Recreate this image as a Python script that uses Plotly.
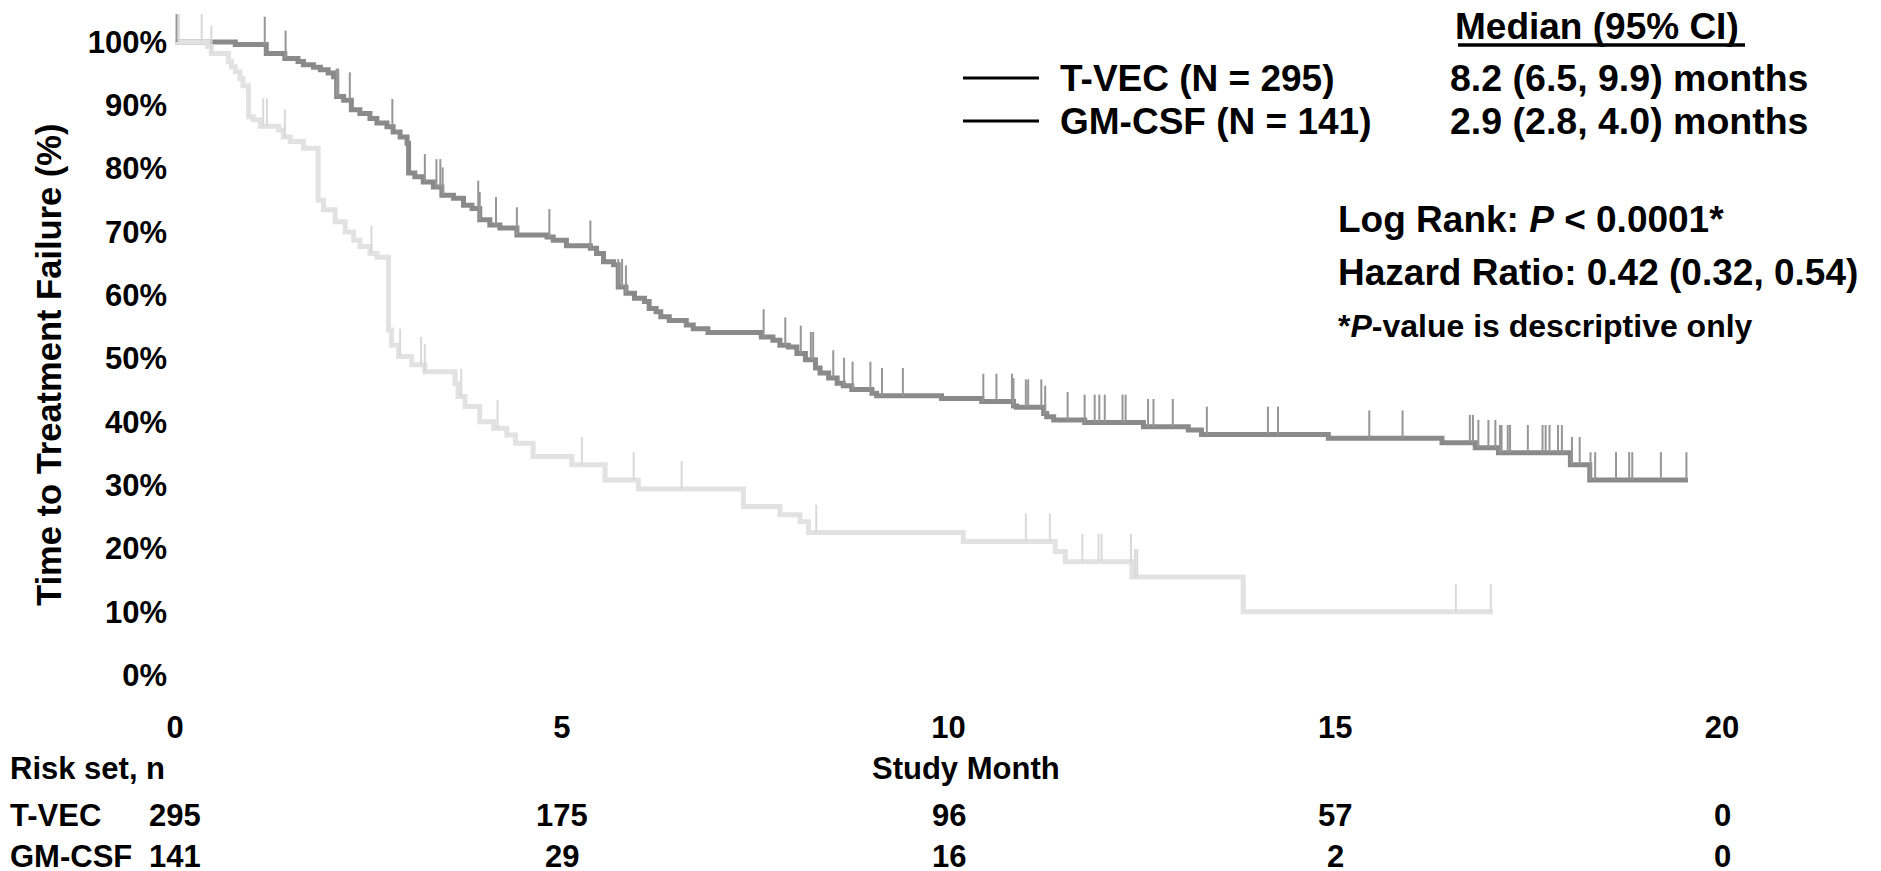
import plotly.graph_objects as go

# Kaplan-Meier steps: month of each step, % free of treatment failure after it
tvec_time = [0, 0.78, 1.18, 1.42, 1.59, 1.66, 1.79, 1.88, 1.98, 2.05, 2.09, 2.18, 2.28, 2.39,
             2.52, 2.61, 2.74, 2.82, 2.91, 3.00, 3.02, 3.10, 3.21, 3.34, 3.45, 3.60, 3.73, 3.84,
             3.94, 4.07, 4.20, 4.42, 4.81, 4.89, 5.06, 5.37, 5.45, 5.54, 5.67, 5.73, 5.83, 5.94,
             6.07, 6.13, 6.22, 6.28, 6.39, 6.61, 6.70, 6.89, 7.58, 7.73, 7.82, 7.93, 8.04, 8.15,
             8.28, 8.34, 8.45, 8.56, 8.64, 8.75, 9.01, 9.07, 9.91, 10.43, 10.84, 10.88, 11.23,
             11.27, 11.36, 11.76, 12.52, 13.10, 13.27, 14.91, 16.38, 16.81, 17.11, 18.04, 18.29]
tvec_surv = [100, 99.6, 98.2, 97.4, 96.9, 96.4, 96.0, 95.6, 95.1, 94.5, 91.4, 90.8, 89.3, 88.7,
             87.9, 87.2, 86.6, 85.8, 85.0, 84.0, 79.3, 78.7, 77.9, 77.1, 75.8, 75.3, 74.2, 73.7,
             71.9, 71.1, 70.6, 69.5, 69.2, 68.7, 67.8, 67.4, 66.6, 65.3, 64.8, 61.3, 60.3, 59.5,
             59.0, 57.9, 57.4, 56.6, 56.0, 55.3, 54.7, 54.1, 53.4, 52.9, 52.1, 51.8, 50.8, 49.8,
             48.5, 47.7, 46.9, 46.1, 45.7, 45.1, 44.5, 44.1, 43.7, 43.2, 42.5, 42.3, 41.3,
             40.8, 40.3, 39.9, 39.2, 38.7, 38.0, 37.4, 36.7, 35.9, 35.1, 33.2, 30.8]
tvec_end = 19.56
tvec_censor = [0.02, 1.16, 1.43, 2.09, 2.11, 2.26, 2.81, 3.23, 3.38, 3.43, 3.46, 3.92, 3.94,
               4.15, 4.42, 4.84, 5.37, 5.73, 5.78, 5.83, 7.61, 7.89, 8.09, 8.22, 8.25, 8.51,
               8.65, 8.76, 8.99, 9.14, 9.41, 10.45, 10.62, 10.82, 10.84, 11.0, 11.03, 11.2,
               11.25, 11.54, 11.76, 11.89, 11.95, 12.02, 12.25, 12.29, 12.58, 12.65, 12.9,
               13.34, 14.13, 14.26, 15.44, 15.87, 16.74, 16.78, 16.85, 16.98, 17.07, 17.13,
               17.15, 17.23, 17.26, 17.49, 17.68, 17.72, 17.77, 17.88, 17.93, 18.06, 18.16,
               18.30, 18.36, 18.63, 18.80, 18.84, 19.21, 19.54]

gm_time = [0, 0.42, 0.47, 0.69, 0.73, 0.78, 0.84, 0.88, 0.95, 1.01, 1.10, 1.34, 1.40, 1.49,
           1.66, 1.85, 1.92, 2.07, 2.20, 2.31, 2.39, 2.52, 2.61, 2.76, 2.80, 2.89, 3.06, 3.23,
           3.62, 3.66, 3.75, 3.94, 4.12, 4.29, 4.40, 4.63, 5.13, 5.56, 5.99, 7.35, 7.82, 8.08,
           8.19, 10.19, 11.38, 11.51, 12.37, 13.81]
gm_surv = [100, 99.3, 98.2, 96.9, 96.1, 95.3, 94.2, 93.1, 88.2, 87.7, 86.7, 86.1, 85.0, 84.3,
           83.2, 75.0, 73.5, 71.6, 70.0, 68.7, 67.7, 66.6, 66.0, 54.5, 52.1, 50.3, 49.0, 47.9,
           46.0, 44.0, 42.4, 40.0, 39.0, 37.9, 36.6, 34.5, 33.2, 30.8, 29.4, 26.6, 25.3, 24.2,
           22.5, 21.1, 19.5, 17.9, 15.5, 10.0]
gm_end = 17.04
gm_censor = [0.05, 0.345, 0.47, 1.14, 1.19, 1.42, 2.54, 2.91, 3.18, 3.23, 3.70, 4.17, 5.26,
             5.93, 6.55, 8.29, 11.0, 11.31, 11.73, 11.94, 11.98, 12.36, 12.41, 12.44, 16.56,
             17.01]

x_ticks = [0, 5, 10, 15, 20]
y_ticks = [0, 10, 20, 30, 40, 50, 60, 70, 80, 90, 100]
risk_tvec = [295, 175, 96, 57, 0]
risk_gm = [141, 29, 16, 2, 0]

FONT = "Arial, Liberation Sans, sans-serif"
DARK, DARK_TICK = "#8a8a8a", "#969696"
LIGHT, LIGHT_TICK = "#e2e2e2", "#d9d9d9"
TICK_H = 4.4

# page coordinates (the figure sits 8 px in from the page corner)
OFF = 8
W, H = 1881 - OFF, 871
PLOT_L, PLOT_B = 168, 706
X0_PX, PX_PER_MONTH = 175, 77.35
Y0_PX, PX_PER_PCT = 675, 6.33


def px_x(px):
    return (px - PLOT_L) / (OFF + W - PLOT_L)


def px_y(py):
    return (PLOT_B - py) / (PLOT_B - OFF)


def level_at(times, surv, t):
    lvl = surv[0]
    for ti, si in zip(times, surv):
        if ti <= t:
            lvl = si
    return lvl


def censor_marks(times, surv, censor):
    xs, ys = [], []
    for c in censor:
        lvl = level_at(times, surv, c)
        xs += [c, c, None]
        ys += [lvl, lvl + TICK_H, None]
    return xs, ys


fig = go.Figure()
fig.add_trace(go.Scatter(x=tvec_time + [tvec_end], y=tvec_surv + [tvec_surv[-1]],
                         mode="lines", line=dict(color=DARK, width=5, shape="hv")))
fig.add_trace(go.Scatter(x=gm_time + [gm_end], y=gm_surv + [gm_surv[-1]],
                         mode="lines", line=dict(color=LIGHT, width=5, shape="hv")))
cx, cy = censor_marks(tvec_time, tvec_surv, tvec_censor)
fig.add_trace(go.Scatter(x=cx, y=cy, mode="lines", line=dict(color=DARK_TICK, width=2)))
cx, cy = censor_marks(gm_time, gm_surv, gm_censor)
fig.add_trace(go.Scatter(x=cx, y=cy, mode="lines", line=dict(color=LIGHT_TICK, width=2)))

bold = dict(family=FONT, color="black", weight="bold")
BIG, SMALL = 37, 31

annotations = [
    dict(text="Time to Treatment Failure (%)", textangle=-90, x=px_x(28), y=px_y(365),
         font=dict(size=34.5, **bold)),
    dict(text="Median (95% CI)", x=px_x(1454), y=px_y(27), xanchor="left", borderpad=0,
         font=dict(size=37, **bold)),
    dict(text="T-VEC (N = 295)", x=px_x(1058), y=px_y(78), xanchor="left",
         font=dict(size=BIG, **bold)),
    dict(text="GM-CSF (N = 141)", x=px_x(1058), y=px_y(121), xanchor="left",
         font=dict(size=BIG, **bold)),
    dict(text="8.2 (6.5, 9.9) months", x=px_x(1448), y=px_y(78), xanchor="left",
         font=dict(size=37.5, **bold)),
    dict(text="2.9 (2.8, 4.0) months", x=px_x(1448), y=px_y(121), xanchor="left",
         font=dict(size=37.5, **bold)),
    dict(text="Log Rank: <i>P</i> &lt; 0.0001*", x=px_x(1336), y=px_y(220), xanchor="left",
         font=dict(size=BIG, **bold)),
    dict(text="Hazard Ratio: 0.42 (0.32, 0.54)", x=px_x(1336), y=px_y(272), xanchor="left",
         font=dict(size=BIG, **bold)),
    dict(text="*<i>P</i>-value is descriptive only", x=px_x(1336), y=px_y(326),
         xanchor="left", font=dict(size=32, **bold)),
    dict(text="Risk set, n", x=px_x(8), y=px_y(768), xanchor="left",
         font=dict(size=SMALL, **bold)),
    dict(text="Study Month", x=px_x(966), y=px_y(768), font=dict(size=SMALL, **bold)),
    dict(text="T-VEC", x=px_x(8), y=px_y(815), xanchor="left", font=dict(size=SMALL, **bold)),
    dict(text="GM-CSF", x=px_x(8), y=px_y(857), xanchor="left", font=dict(size=SMALL, **bold)),
]
for t, a, b in zip(x_ticks, risk_tvec, risk_gm):
    annotations.append(dict(text=str(a), x=t, xref="x", y=px_y(815), yref="paper",
                            font=dict(size=SMALL, **bold)))
    annotations.append(dict(text=str(b), x=t, xref="x", y=px_y(857), yref="paper",
                            font=dict(size=SMALL, **bold)))
for a in annotations:
    a.setdefault("xref", "paper")
    a.setdefault("yref", "paper")
    a["showarrow"] = False
    a.setdefault("yanchor", "middle")

# legend keys (black) and the underline of the median header
shapes = [
    dict(type="line", xref="paper", yref="paper", x0=px_x(963), x1=px_x(1039),
         y0=px_y(y), y1=px_y(y), line=dict(color="black", width=3))
    for y in (78, 121)
]
shapes.append(dict(type="line", xref="paper", yref="paper", x0=px_x(1458), x1=px_x(1745),
                   y0=px_y(45), y1=px_y(45), line=dict(color="black", width=3.5)))

fig.update_layout(
    width=W, height=H,
    margin=dict(l=PLOT_L - OFF, r=0, t=0, b=OFF + H - PLOT_B),
    paper_bgcolor="white", plot_bgcolor="white",
    showlegend=False,
    annotations=annotations,
    shapes=shapes,
    xaxis=dict(range=[(PLOT_L - X0_PX) / PX_PER_MONTH, (OFF + W - X0_PX) / PX_PER_MONTH],
               tickvals=x_ticks, showgrid=False, zeroline=False, showline=False, ticks="",
               tickfont=dict(size=SMALL, **bold)),
    yaxis=dict(range=[(Y0_PX - PLOT_B) / PX_PER_PCT, (Y0_PX - OFF) / PX_PER_PCT],
               tickvals=y_ticks, ticktext=[f"{v}%" for v in y_ticks],
               showgrid=False, zeroline=False, showline=False, ticks="",
               tickfont=dict(size=SMALL, **bold)),
)

fig.write_html("out.html")
